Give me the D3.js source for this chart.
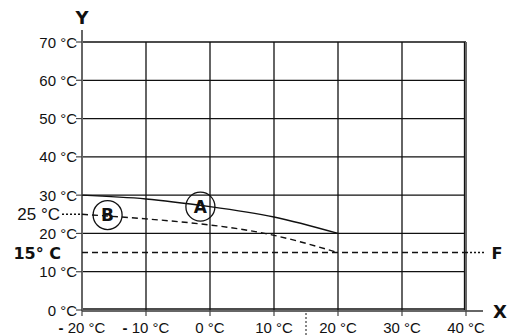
<!DOCTYPE html>
<meta charset="utf-8">
<style>
body { margin: 0; background: #fff; }
text { font-family: "Liberation Sans", Arial, sans-serif; fill: #111; }
.grid { stroke: #111; stroke-width: 1.3px; fill: none; }
.axis { stroke: #666; stroke-width: 2px; fill: none; }
.tick { stroke: #444; stroke-width: 1.2px; }
.curve { fill: none; stroke: #111; stroke-width: 1.4px; }
.dash { stroke-dasharray: 6,4; }
.dot { stroke-dasharray: 2,2; }
.bold { font-weight: bold; font-family: "DejaVu Sans", sans-serif; }
</style>
<body>
<script src="https://cdn.jsdelivr.net/npm/d3@7"></script>
<script>

var width = 510,
    height = 336;

// chart values
var xTicks = [-20, -10, 0, 10, 20, 30, 40];
var yTicks = [0, 10, 20, 30, 40, 50, 60, 70];
var curveX = [-20, -10, 0, 10, 20];
var curveA = [30, 29, 27, 24.3, 20];
var curveB = [25, 23.8, 22.2, 19.5, 15];
var levelF = 15;
var markX = 15;
var labelA = [-1.5, 27];
var labelB = [-16, 24.8];

var x = d3.scaleLinear().domain([-20, 40]).range([82, 466]);
var y = d3.scaleLinear().domain([0, 70]).range([310, 42]);

var svg = d3.select("body").append("svg")
    .attr("width", width)
    .attr("height", height);

// grid
svg.selectAll(".hgrid")
    .data(yTicks)
  .enter().append("line")
    .attr("class", "grid")
    .attr("x1", x(-20)).attr("x2", x(40))
    .attr("y1", function(d) { return y(d) - (d === 0 ? 1 : 0); })
    .attr("y2", function(d) { return y(d) - (d === 0 ? 1 : 0); });

svg.selectAll(".vgrid")
    .data(xTicks)
  .enter().append("line")
    .attr("class", "grid")
    .attr("x1", function(d) { return x(d) - (d === 40 ? 1.5 : 0); })
    .attr("x2", function(d) { return x(d) - (d === 40 ? 1.5 : 0); })
    .attr("y1", y(70)).attr("y2", y(0));

// axes
svg.append("line").attr("class", "axis")
    .attr("x1", x(-20)).attr("x2", 483)
    .attr("y1", y(0) + 1).attr("y2", y(0) + 1);
svg.append("line").attr("class", "axis")
    .attr("x1", x(-20)).attr("x2", x(-20))
    .attr("y1", 30).attr("y2", y(0) + 1);
svg.append("line").attr("class", "axis")
    .attr("x1", x(40)).attr("x2", x(40))
    .attr("y1", y(70)).attr("y2", y(0) + 1);

// ticks
svg.selectAll(".yt")
    .data(yTicks)
  .enter().append("line")
    .attr("class", "tick")
    .attr("x1", x(-20) - 6).attr("x2", x(-20))
    .attr("y1", y).attr("y2", y);

svg.selectAll(".xt")
    .data(xTicks)
  .enter().append("line")
    .attr("class", "tick")
    .attr("x1", x).attr("x2", x)
    .attr("y1", y(0)).attr("y2", y(0) + 6);

// tick labels
svg.selectAll(".ylab")
    .data(yTicks)
  .enter().append("text")
    .attr("x", x(-20) - 5)
    .attr("y", function(d) { return y(d) + 5.5; })
    .attr("text-anchor", "end")
    .style("font-size", "15px")
    .text(function(d) { return d + " °C"; });

var xl = svg.selectAll(".xlab")
    .data(xTicks)
  .enter().append("text")
    .attr("x", x)
    .attr("y", 333)
    .attr("text-anchor", "middle")
    .style("font-size", "15px");
xl.filter(function(d) { return d < 0; }).append("tspan")
    .style("font-weight", "bold")
    .text("- ");
xl.append("tspan")
    .text(function(d) { return Math.abs(d) + " °C"; });

// axis names
svg.append("text").attr("class", "bold")
    .attr("x", x(-20)).attr("y", 24)
    .attr("text-anchor", "middle")
    .style("font-size", "18px")
    .text("Y");
svg.append("text").attr("class", "bold")
    .attr("x", 500).attr("y", 318)
    .attr("text-anchor", "middle")
    .style("font-size", "18px")
    .text("X");

// F level
svg.append("line").attr("class", "curve dash")
    .attr("x1", x(-20)).attr("x2", x(40))
    .attr("y1", y(levelF)).attr("y2", y(levelF));
svg.append("line").attr("class", "curve dot")
    .attr("x1", x(40)).attr("x2", 484)
    .attr("y1", y(levelF)).attr("y2", y(levelF));
svg.append("text").attr("class", "bold")
    .attr("x", 497).attr("y", y(levelF) + 6)
    .attr("text-anchor", "middle")
    .style("font-size", "16px")
    .text("F");
svg.append("text").attr("class", "bold")
    .attr("x", 61).attr("y", y(levelF) + 6)
    .attr("text-anchor", "end")
    .style("font-size", "16px")
    .text("15° C");

// vertical marker below the axis
svg.append("line").attr("class", "curve dot")
    .style("stroke-width", "1px")
    .attr("x1", x(markX)).attr("x2", x(markX))
    .attr("y1", y(0) + 3).attr("y2", height);

// curves
var line = d3.line()
    .x(function(d) { return x(d[0]); })
    .y(function(d) { return y(d[1]); })
    .curve(d3.curveNatural);

svg.append("path").attr("class", "curve")
    .attr("d", line(d3.zip(curveX, curveA)));
svg.append("path").attr("class", "curve dash")
    .attr("d", line(d3.zip(curveX, curveB)));

// B start level
svg.append("line").attr("class", "curve dot")
    .attr("x1", 62).attr("x2", x(-20))
    .attr("y1", y(curveB[0])).attr("y2", y(curveB[0]));
svg.append("text")
    .attr("x", 60).attr("y", y(curveB[0]) + 6)
    .attr("text-anchor", "end")
    .style("font-size", "17px")
    .text("25 °C");

// circled labels
[[labelA, "A"], [labelB, "B"]].forEach(function(l) {
  svg.append("circle")
      .attr("cx", x(l[0][0])).attr("cy", y(l[0][1]))
      .attr("r", 14.5)
      .attr("fill", "none")
      .attr("stroke", "#111")
      .attr("stroke-width", 1.3);
  svg.append("text").attr("class", "bold")
      .attr("x", x(l[0][0])).attr("y", y(l[0][1]) + 6)
      .attr("text-anchor", "middle")
      .style("font-size", "17px")
      .text(l[1]);
});

</script>
